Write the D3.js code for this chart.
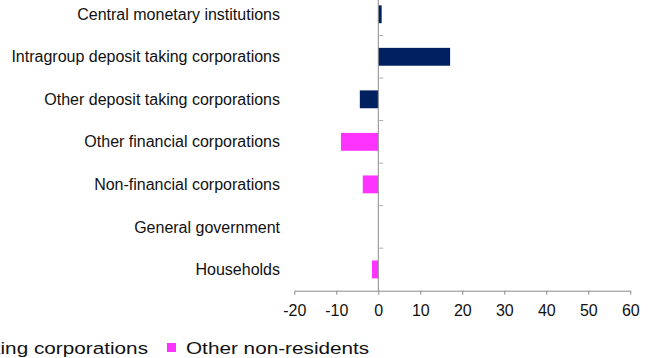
<!DOCTYPE html>
<html>
<head>
<meta charset="utf-8">
<script src="https://cdn.jsdelivr.net/npm/d3@7"></script>
<style>
  html, body { margin: 0; padding: 0; background: #fff; }
  svg { display: block; font-family: "Liberation Sans", Arial, sans-serif; }
</style>
</head>
<body>
<svg id="chart" width="650" height="358"></svg>
<script>
// Sectors, top to bottom
const categories = [
  "Central monetary institutions",
  "Intragroup deposit taking corporations",
  "Other deposit taking corporations",
  "Other financial corporations",
  "Non-financial corporations",
  "General government",
  "Households"
];
const seriesNames = ["Deposit taking corporations", "Other non-residents"];
const depositTaking = [0.8, 17.1, -4.4, 0, 0, 0, 0];
const otherNonResidents = [0, 0, 0, -8.9, -3.7, 0, -1.5];
const xTicks = [-20, -10, 0, 10, 20, 30, 40, 50, 60];
const seriesColors = ["#002060", "#ff33ff"];

const series = [depositTaking, otherNonResidents];

const svg = d3.select("#chart");
const axisColor = "#8a8a8a";

const x = d3.scaleLinear().domain([-20, 60]).range([294.3, 630.3]);
const y = d3.scaleBand().domain(categories).range([-7, 290.7]).padding(0);
const step = y.step();
const barH = step * 0.42;

// Bars
series.forEach((vals, si) => {
  svg.append("g")
    .selectAll("rect")
    .data(categories.map((c, i) => ({ c, v: vals[i] })).filter(d => d.v !== 0))
    .join("rect")
    .attr("x", d => x(Math.min(0, d.v)))
    .attr("width", d => Math.abs(x(d.v) - x(0)))
    .attr("y", d => y(d.c) + (step - barH) / 2)
    .attr("height", barH)
    .attr("fill", seriesColors[si]);
});

// Value axis (plain hyphen for negatives)
const xAxis = svg.append("g")
  .attr("transform", `translate(0,${y.range()[1]})`)
  .call(d3.axisBottom(x).tickValues(xTicks).tickFormat(d => String(d))
    .tickSize(4).tickSizeOuter(0).tickPadding(10));
xAxis.select(".domain").attr("stroke", axisColor);
xAxis.selectAll(".tick line").attr("stroke", axisColor);
xAxis.selectAll(".tick text")
  .attr("font-size", 16)
  .attr("font-family", "Liberation Sans, Arial, sans-serif")
  .attr("fill", "#111");

// Category axis at zero with boundary ticks
const catAxis = svg.append("g");
catAxis.append("line")
  .attr("x1", x(0)).attr("x2", x(0))
  .attr("y1", y.range()[0]).attr("y2", y.range()[1])
  .attr("stroke", axisColor);
catAxis.selectAll("line.tick")
  .data(categories)
  .join("line")
  .attr("class", "tick")
  .attr("x1", x(0)).attr("x2", x(0) + 5)
  .attr("y1", d => y(d)).attr("y2", d => y(d))
  .attr("stroke", "#b0b0b0");

// Category labels
svg.append("g")
  .selectAll("text")
  .data(categories)
  .join("text")
  .attr("x", 280)
  .attr("y", d => y(d) + step / 2)
  .attr("dy", "0.35em")
  .attr("text-anchor", "end")
  .attr("font-size", 16)
  .attr("fill", "#111")
  .text(d => d);

// Legend
const legend = svg.append("g");
const legendItems = [
  { name: seriesNames[0], color: seriesColors[0], textEnd: 148 },
  { name: seriesNames[1], color: seriesColors[1], textStart: 186 }
];
const sx = 1.22;
legendItems.forEach(item => {
  const t = legend.append("text")
    .attr("font-size", 17)
    .attr("fill", "#111")
    .text(item.name);
  let start;
  if (item.textEnd !== undefined) {
    t.attr("text-anchor", "end").attr("transform", `translate(${item.textEnd},354) scale(${sx},1)`);
    start = item.textEnd - t.node().getComputedTextLength() * sx;
  } else {
    t.attr("transform", `translate(${item.textStart},354) scale(${sx},1)`);
    start = item.textStart;
  }
  legend.append("rect")
    .attr("x", start - 19).attr("y", 343)
    .attr("width", 9).attr("height", 9)
    .attr("fill", item.color);
});
</script>
</body>
</html>
